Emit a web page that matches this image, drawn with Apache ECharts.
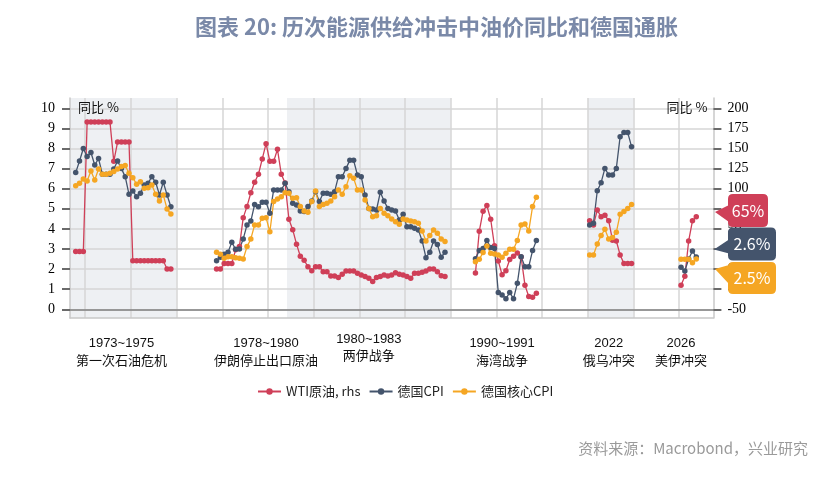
<!DOCTYPE html>
<html><head><meta charset="utf-8">
<script src="https://cdn.jsdelivr.net/npm/echarts@6/dist/echarts.min.js"></script>
<style>html,body{margin:0;padding:0;background:#fff}#c{width:834px;height:478px}</style>
</head><body><div id="c"></div>
<script>
// ---------- DATA ----------
// WTI oil yoy (%, right axis), German CPI yoy (%), German core CPI yoy (%)
const wti1973  = [22,22,22,183,183,183,183,183,183,183,134,158,158,158,158,10.5,10.5,10.5,10.5,10.5,10.5,10.5,10.5,10.5,0,0];
const cpi1973  = [6.8,7.38,8.0,7.6,7.8,7.18,7.5,6.72,6.72,6.72,6.98,7.38,7.0,6.6,5.72,5.89,5.6,5.77,6.19,6.27,6.6,6.32,5.69,6.32,5.69,5.1];
const core1973 = [6.15,6.27,6.48,6.38,6.88,6.43,6.98,6.72,6.72,6.77,6.85,6.98,7.1,7.15,6.77,6.55,6.22,6.35,6.02,6.05,6.19,5.72,5.39,5.69,4.99,4.74];

const wti1978  = [0,0,7,7,7,24,28,64,78,95,108,118,137,156,134,134,149,118,107,62,49,31,16,11,3,-2,3,3,
  -3.3,-3.3,-8.5,-8.5,-10.5,-6.5,-2.5,-2.5,-2.5,-5.3,-7.3,-9.3,-11.5,-15.5,-10.5,-9.3,-7.3,-8.5,-7.3,-4.5,-6.5,-7.3,-9.3,-11.5,-5.3,-5.3,-3.8,-2.5,0,0,-3.3,-8.3,-9.3];
const cpi1978  = [2.42,2.59,2.74,2.84,3.33,2.99,3.0,3.5,4.2,4.39,5.22,5.1,5.32,5.32,4.78,5.94,5.94,5.94,
  6.27,5.85,5.27,5.19,4.89,4.86,5.11,5.39,5.85,5.36,5.77,5.77,5.72,5.85,6.6,6.6,7.01,7.41,7.41,6.68,6.6,5.69,5.02,4.99,4.94,5.82,5.39,5.02,4.94,4.89,4.44,4.73,4.11,4.11,4.03,3.95,3.4,2.57,2.84,3.4,3.23,2.59,2.84];
const core1978 = [2.84,2.74,2.54,2.62,2.62,2.57,2.54,2.5,3.12,3.5,4.2,4.2,4.53,4.56,3.86,5.36,5.49,5.6,
  5.8,5.77,5.52,5.55,5.11,4.89,4.83,5.36,5.89,5.11,5.22,5.27,5.39,5.6,5.94,5.72,6.1,6.65,6.52,5.94,5.94,5.44,5.02,4.61,4.66,5.02,4.78,4.66,4.49,4.36,4.23,4.49,4.44,4.39,4.36,4.28,3.9,3.4,3.67,3.95,3.78,3.5,3.37];

const wti1990  = [-5,47,72,79,62,29,10,-7,-2,12,16,20,15,-20,-34,-35,-30];
const cpi1990  = [2.52,2.92,3.03,3.42,3.08,3.03,0.83,0.71,0.53,0.83,0.53,1.29,2.62,2.12,2.12,2.92,3.42];
const core1990 = [2.37,2.49,2.82,3.15,2.79,2.75,2.7,2.59,2.79,2.99,2.99,3.42,4.2,4.25,3.9,5.11,5.57];

const wti2022  = [60,55,73.5,65,67,60,36,35,17.6,7,7,7];
const cpi2022  = [4.2,4.28,5.9,6.3,7.01,6.68,6.68,7.01,8.59,8.79,8.79,8.09];
const core2022 = [2.7,2.7,3.25,3.67,3.98,3.5,3.57,3.83,4.73,4.86,5.02,5.22];

const wti2026  = [-20,-9,35,60,65];
const cpi2026  = [2.09,1.91,2.5,2.9,2.6];
const core2026 = [2.49,2.49,2.49,2.32,2.5];

const seriesNames = ['WTI原油, rhs', '德国CPI', '德国核心CPI'];
const episodeYears = ['1973~1975', '1978~1980', '1980~1983', '1990~1991', '2022', '2026'];
const episodeNames = ['第一次石油危机', '伊朗停止出口原油', '两伊战争', '海湾战争', '俄乌冲突', '美伊冲突'];
const leftTicks = {min: 0, max: 10, step: 1};
const rightTicks = {min: -50, max: 200, step: 25};

// ---------- LAYOUT (slot positions on the concatenated category axis) ----------
const TOTAL_SLOTS = 169;
const episodeStart = [1, 38, 106, 136, 160];
const labelSlot = [13, 51, 78, 113, 141, 160];
const shadeRanges = [[0, 28], [57, 100], [136, 148]];
const gridSlots = []; for (let s = 4; s < TOTAL_SLOTS; s += 12) gridSlots.push(s);

const RED = '#cf3f58', BLUE = '#44546c', ORANGE = '#f5a623';

const slotNames = []; for (let i = 0; i < TOTAL_SLOTS; i++) slotNames.push('s' + i);
function build(parts) {
  const out = new Array(TOTAL_SLOTS).fill(null);
  parts.forEach((arr, k) => arr.forEach((v, i) => { out[episodeStart[k] + i] = v; }));
  return out;
}
const wtiAll  = build([wti1973, wti1978, wti1990, wti2022, wti2026]);
const cpiAll  = build([cpi1973, cpi1978, cpi1990, cpi2022, cpi2026]);
const coreAll = build([core1973, core1978, core1990, core2022, core2026]);

const CJK = 'Noto Sans CJK SC';
function callout(value, color, path, size, offset, labelDx) {
  return {
    silent: true, animation: false,
    symbol: path, symbolSize: size, symbolOffset: offset,
    itemStyle: {color: color},
    label: {show: true, position: 'inside', offset: [labelDx, 0], color: '#fff',
            fontFamily: CJK, fontSize: 16, formatter: () => value + '%'},
    data: [{coord: [TOTAL_SLOTS - 1, value], value: value}]
  };
}

const chart = echarts.init(document.getElementById('c'), null, {renderer: 'canvas'});
chart.setOption({
  animation: false,
  backgroundColor: '#fff',
  title: [
    {text: '图表 20: 历次能源供给冲击中油价同比和德国通胀', left: 195, top: 16, padding: 0,
     textStyle: {fontFamily: CJK, fontSize: 22, fontWeight: 'bold', color: '#7a89a8'}},
    {text: '资料来源：Macrobond，兴业研究', right: 26, top: 441, padding: 0,
     textStyle: {fontFamily: CJK, fontSize: 15, fontWeight: 'normal', color: '#9a9a9a'}}
  ],
  legend: {
    data: seriesNames, left: 257, top: 385, padding: 0,
    itemWidth: 23, itemHeight: 8, itemGap: 8,
    textStyle: {fontFamily: CJK, fontSize: 13, color: '#222'}
  },
  grid: [
    {left: 70, right: 120.6, top: 98, bottom: 160},
    {left: 70, right: 120.6, top: 108.3, bottom: 168.7}
  ],
  xAxis: [
    {gridIndex: 0, type: 'value', min: 0, max: TOTAL_SLOTS, z: 2,
     axisLine: {show: true, onZero: false, lineStyle: {color: '#c8c8c8', width: 1.5}},
     axisTick: {show: false}, axisLabel: {show: false}, splitLine: {show: false}},
    {gridIndex: 1, type: 'category', data: slotNames, boundaryGap: true, z: 2,
     axisLine: {show: true, onZero: false, lineStyle: {color: '#808080', width: 1.5}},
     axisTick: {show: false}, splitLine: {show: false},
     axisLabel: {
       show: true, margin: 23,
       interval: (i) => labelSlot.indexOf(i) >= 0,
       formatter: (v, i) => {
         const k = labelSlot.indexOf(i);
         if (k < 0) return '';
         return k === 2 ? '{y3|' + episodeYears[k] + '}\n{n3|' + episodeNames[k] + '}'
                        : '{y|' + episodeYears[k] + '}\n{n|' + episodeNames[k] + '}';
       },
       rich: {
         y:  {fontFamily: 'Liberation Sans', fontSize: 13, lineHeight: 22, color: '#111'},
         n:  {fontFamily: CJK, fontSize: 13, lineHeight: 12, color: '#111'},
         y3: {fontFamily: 'Liberation Sans', fontSize: 13, lineHeight: 14, color: '#111'},
         n3: {fontFamily: CJK, fontSize: 13, lineHeight: 18, color: '#111'}
       }
     }}
  ],
  yAxis: [
    {gridIndex: 0, type: 'value', min: 0, max: 1, position: 'left', z: 2,
     axisLine: {show: true, onZero: false, lineStyle: {color: '#c8c8c8', width: 1.5}},
     axisTick: {show: false}, axisLabel: {show: false}, splitLine: {show: false}},
    {gridIndex: 0, type: 'value', min: 0, max: 1, position: 'right', z: 2,
     axisLine: {show: true, onZero: false, lineStyle: {color: '#c8c8c8', width: 1.5}},
     axisTick: {show: false}, axisLabel: {show: false}, splitLine: {show: false}},
    {gridIndex: 1, type: 'value', min: leftTicks.min, max: leftTicks.max, interval: leftTicks.step, position: 'left', z: 2,
     name: '同比 %', nameLocation: 'end', nameGap: 1,
     nameTextStyle: {fontFamily: CJK, fontSize: 13, color: '#111', align: 'left', verticalAlign: 'middle', padding: [0, 0, 0, 8]},
     axisLine: {show: false},
     axisTick: {show: true, inside: false, length: 8, lineStyle: {color: '#6a6a6a', width: 2}},
     axisLabel: {margin: 15, fontFamily: 'Liberation Serif', fontSize: 14, color: '#000'},
     splitLine: {show: true, lineStyle: {color: '#d6d6d6', width: 1.5}}},
    {gridIndex: 1, type: 'value', min: rightTicks.min, max: rightTicks.max, interval: rightTicks.step, position: 'right', z: 2,
     name: '同比 %', nameLocation: 'end', nameGap: 1,
     nameTextStyle: {fontFamily: CJK, fontSize: 13, color: '#111', align: 'right', verticalAlign: 'middle', padding: [0, 6, 0, 0]},
     axisLine: {show: false},
     axisTick: {show: true, inside: false, length: 8, lineStyle: {color: '#6a6a6a', width: 2}},
     axisLabel: {margin: 14, fontFamily: 'Liberation Serif', fontSize: 14, color: '#000'},
     splitLine: {show: false}}
  ],
  series: [
    {type: 'line', name: 'frame', xAxisIndex: 0, yAxisIndex: 0, data: [], silent: true,
     markArea: {silent: true, z: 1, itemStyle: {color: '#eef0f3'},
                data: shadeRanges.map(r => [{xAxis: r[0]}, {xAxis: r[1]}])},
     markLine: {silent: true, z: 1.5, symbol: 'none', label: {show: false},
                lineStyle: {type: 'solid', color: '#d6d6d6', width: 1.5},
                data: gridSlots.map(s => ({xAxis: s}))}},
    {type: 'line', name: seriesNames[0], xAxisIndex: 1, yAxisIndex: 3, data: wtiAll, z: 3,
     symbol: 'circle', symbolSize: 5.5, showAllSymbol: true, connectNulls: false,
     lineStyle: {width: 1.3, color: RED}, itemStyle: {color: RED},
     markPoint: callout(wti2026[wti2026.length - 1], RED,
       'path://M0,18L14,11L14,28Z M18,0L48,0Q53,0,53,5L53,28Q53,33,48,33L18,33Q13,33,13,28L13,5Q13,0,18,0Z',
       [53, 33], [30, -6.3], 6.5)},
    {type: 'line', name: seriesNames[1], xAxisIndex: 1, yAxisIndex: 2, data: cpiAll, z: 3,
     symbol: 'circle', symbolSize: 5.5, showAllSymbol: true, connectNulls: false,
     lineStyle: {width: 1.3, color: BLUE}, itemStyle: {color: BLUE},
     markPoint: callout(cpi2026[cpi2026.length - 1], BLUE,
       'path://M0,22L15,12L15,26Z M19,0L57,0Q62,0,62,5L62,28Q62,33,57,33L19,33Q14,33,14,28L14,5Q14,0,19,0Z',
       [62, 33], [33.5, -13], 7)},
    {type: 'line', name: seriesNames[2], xAxisIndex: 1, yAxisIndex: 2, data: coreAll, z: 3,
     symbol: 'circle', symbolSize: 5.5, showAllSymbol: true, connectNulls: false,
     lineStyle: {width: 1.3, color: ORANGE}, itemStyle: {color: ORANGE},
     markPoint: callout(core2026[core2026.length - 1], ORANGE,
       'path://M0,7L14,3L14,22Z M18,0L56,0Q61,0,61,5L61,27Q61,32,56,32L18,32Q13,32,13,27L13,5Q13,0,18,0Z',
       [61, 32], [34, 19], 6.5)}
  ]
});
</script></body></html>
